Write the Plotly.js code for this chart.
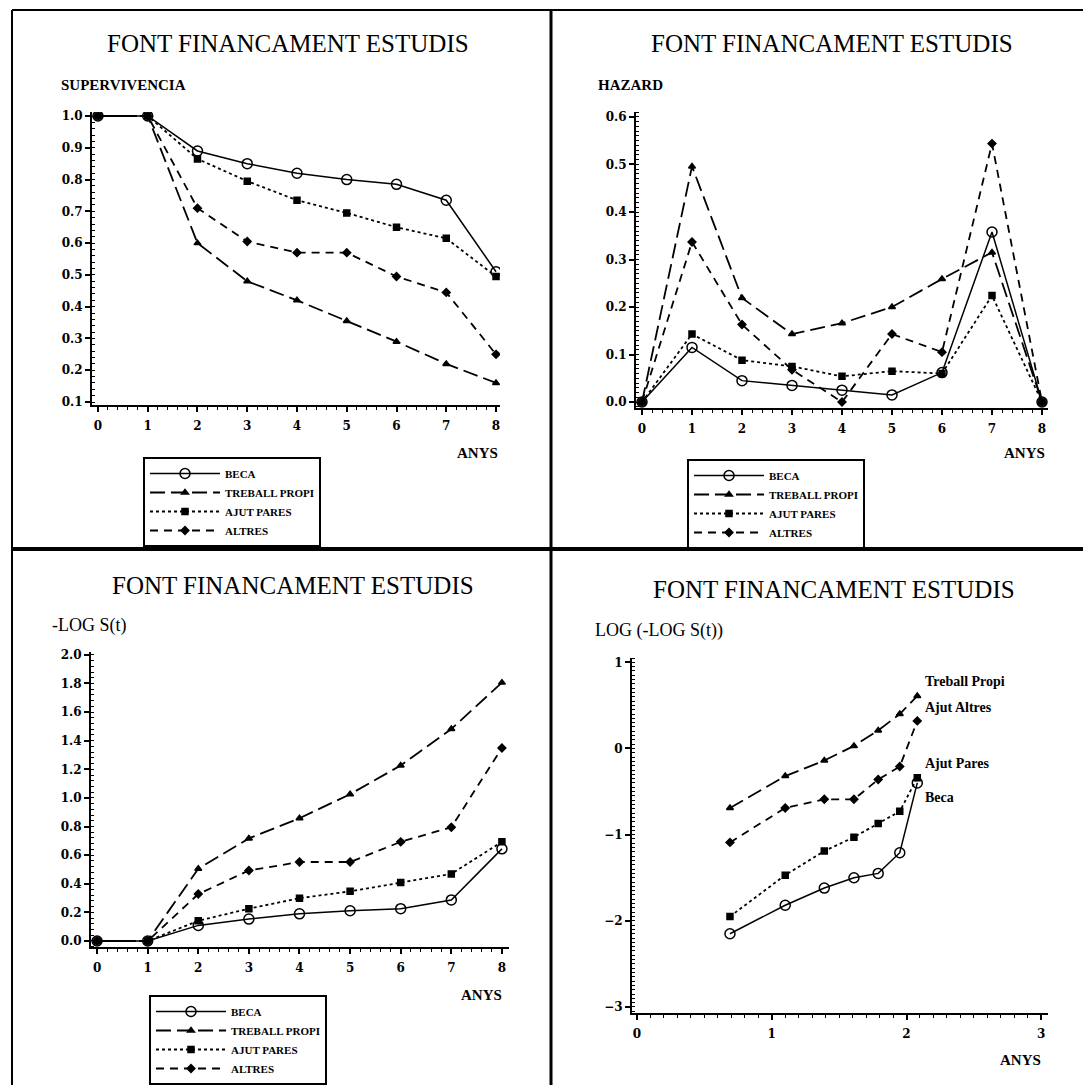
<!DOCTYPE html>
<html><head><meta charset="utf-8">
<script src="https://cdn.plot.ly/plotly-3.0.1.min.js"></script>
<style>html,body{margin:0;padding:0;background:#fff;} #chart{width:1083px;height:1085px;}</style>
</head><body><div id="chart"></div>
<script>
// ---------- DATA ----------
const years = [0, 1, 2, 3, 4, 5, 6, 7, 8];
const seriesNames = ['BECA', 'TREBALL PROPI', 'AJUT PARES', 'ALTRES'];
const endLabels = ['Beca', 'Treball Propi', 'Ajut Pares', 'Ajut Altres'];
const panelTitle = 'FONT FINANCAMENT ESTUDIS';
const yLabels = ['SUPERVIVENCIA', 'HAZARD', '-LOG S(t)', 'LOG (-LOG S(t))'];
const xLabel = 'ANYS';

const survBeca    = [1.0, 1.0, 0.89, 0.85, 0.82, 0.80, 0.785, 0.735, 0.51];
const survTreball = [1.0, 1.0, 0.60, 0.48, 0.42, 0.355, 0.29, 0.22, 0.16];
const survPares   = [1.0, 1.0, 0.865, 0.795, 0.735, 0.695, 0.65, 0.615, 0.495];
const survAltres  = [1.0, 1.0, 0.71, 0.605, 0.57, 0.57, 0.495, 0.445, 0.25];

const hazBeca    = [0, 0.115, 0.045, 0.035, 0.025, 0.015, 0.062, 0.358, 0];
const hazTreball = [0, 0.496, 0.219, 0.143, 0.166, 0.200, 0.259, 0.315, 0];
const hazPares   = [0, 0.143, 0.088, 0.075, 0.054, 0.065, 0.060, 0.224, 0];
const hazAltres  = [0, 0.337, 0.163, 0.068, 0.000, 0.143, 0.105, 0.544, 0];

const mlsBeca    = [0, 0, 0.109, 0.153, 0.190, 0.211, 0.226, 0.287, 0.644];
const mlsTreball = [0, 0, 0.505, 0.717, 0.858, 1.026, 1.227, 1.482, 1.806];
const mlsPares   = [0, 0, 0.141, 0.226, 0.299, 0.347, 0.408, 0.469, 0.693];
const mlsAltres  = [0, 0, 0.328, 0.493, 0.552, 0.552, 0.693, 0.795, 1.349];

const logYears   = [0.69, 1.10, 1.39, 1.61, 1.79, 1.95, 2.08];
const llsBeca    = [-2.15, -1.82, -1.62, -1.50, -1.45, -1.21, -0.40];
const llsTreball = [-0.69, -0.32, -0.14, 0.03, 0.21, 0.40, 0.61];
const llsPares   = [-1.95, -1.47, -1.19, -1.03, -0.87, -0.73, -0.34];
const llsAltres  = [-1.09, -0.69, -0.59, -0.59, -0.36, -0.21, 0.32];

// ---------- STYLE ----------
const W = 1083, H = 1085;
const px = v => v / W;
const py = v => 1 - v / H;
const SERIF = 'Liberation Serif, Times New Roman, serif';
const TICKSERIF = 'DejaVu Serif, Liberation Serif, serif';
const tickFont = {family: TICKSERIF, size: 12, color: '#000', weight: 'bold'};

const styles = [
  {dash: 'solid',    width: 1.5, symbol: 'circle-open', size: 10},
  {dash: '15px,6px', width: 1.8, symbol: 'triangle-up', size: 6},
  {dash: 'dot',      width: 1.8, symbol: 'square',      size: 6},
  {dash: '8px,6px',  width: 1.8, symbol: 'diamond',     size: 6}
];

function makeTraces(x, ysList, xa, ya, legendId, names) {
  return ysList.map((ys, i) => {
    const t = {
      type: 'scatter', mode: 'lines+markers', x: x, y: ys,
      xaxis: xa, yaxis: ya, name: names[i],
      showlegend: legendId !== null,
      line: {color: '#000', width: styles[i].width, dash: styles[i].dash},
      marker: {color: '#000', symbol: styles[i].symbol, size: styles[i].size,
               line: {color: '#000', width: 1.5}},
      hoverinfo: 'skip'
    };
    if (legendId) t.legend = legendId;
    return t;
  });
}

let data = [];
data = data.concat(makeTraces(years, [survBeca, survTreball, survPares, survAltres], 'x', 'y', 'legend', seriesNames));
data = data.concat(makeTraces(years, [hazBeca, hazTreball, hazPares, hazAltres], 'x2', 'y2', 'legend2', seriesNames));
data = data.concat(makeTraces(years, [mlsBeca, mlsTreball, mlsPares, mlsAltres], 'x3', 'y3', 'legend3', seriesNames));
data = data.concat(makeTraces(logYears, [llsBeca, llsTreball, llsPares, llsAltres], 'x4', 'y4', null, endLabels));

function axis(extra, minorDtick, minorSide) {
  return Object.assign({
    showline: true, linewidth: 2, linecolor: '#000', mirror: false,
    ticks: 'outside', ticklen: 5, tickwidth: 2, tickcolor: '#000',
    showgrid: false, zeroline: false, tickfont: tickFont, fixedrange: true,
    minor: {ticks: minorSide, ticklen: 3, tickwidth: 1, tickcolor: '#000', dtick: minorDtick, showgrid: false}
  }, extra);
}

function legendCfg(leftPx, centerPx) {
  return {
    x: px(leftPx), xanchor: 'left', y: py(centerPx), yanchor: 'middle',
    bgcolor: '#fff', bordercolor: '#000', borderwidth: 2,
    font: {family: SERIF, size: 11, color: '#000', weight: 'bold'},
    itemwidth: 70, tracegroupgap: 0, orientation: 'v',
    itemclick: false, itemdoubleclick: false
  };
}

const ann = [];
function txt(text, x, y, size, weight, xanchor) {
  ann.push({text: text, x: x, y: y, xref: 'paper', yref: 'paper',
    xanchor: xanchor || 'center', yanchor: 'middle', showarrow: false,
    font: {family: SERIF, size: size, color: '#000', weight: weight || 'normal'}});
}
// Panel titles
txt(panelTitle, px(288), py(43), 25);
txt(panelTitle, px(832), py(43), 25);
txt(panelTitle, px(293), py(585), 25);
txt(panelTitle, px(834), py(589), 25);
// Y labels
txt(yLabels[0], px(59), py(85), 15, 'bold', 'left');
txt(yLabels[1], px(596), py(85), 15, 'bold', 'left');
txt(yLabels[2], px(50), py(625), 18, 'normal', 'left');
txt(yLabels[3], px(593), py(631), 18, 'normal', 'left');
// ANYS (right-aligned with the last major tick)
const anysFont = {family: SERIF, size: 15, color: '#000', weight: 'bold'};
ann.push({text: xLabel, xref: 'x', x: 8, xshift: 4, yref: 'paper', y: py(453), xanchor: 'right', yanchor: 'middle', showarrow: false, font: anysFont});
ann.push({text: xLabel, xref: 'x2', x: 8, xshift: 5, yref: 'paper', y: py(453), xanchor: 'right', yanchor: 'middle', showarrow: false, font: anysFont});
ann.push({text: xLabel, xref: 'x3', x: 8, xshift: 2, yref: 'paper', y: py(995), xanchor: 'right', yanchor: 'middle', showarrow: false, font: anysFont});
ann.push({text: xLabel, xref: 'x4', x: 3, xshift: 2, yref: 'paper', y: py(1060), xanchor: 'right', yanchor: 'middle', showarrow: false, font: anysFont});
// End labels on bottom-right
const lastIdx = logYears.length - 1;
const endSeries = [llsBeca, llsTreball, llsPares, llsAltres];
const endShift = [-15, 14, 14, 13];
endSeries.forEach((s, i) => {
  ann.push({text: endLabels[i], xref: 'x4', yref: 'y4', x: logYears[lastIdx], y: s[lastIdx],
    xanchor: 'left', yanchor: 'middle', xshift: 6, yshift: endShift[i], showarrow: false,
    font: {family: SERIF, size: 14, color: '#000', weight: 'bold'}});
});

// Panel borders
const shapes = [
  {type: 'line', xref: 'paper', yref: 'paper', x0: px(12), x1: 1, y0: py(10), y1: py(10), line: {color: '#000', width: 2}},
  {type: 'line', xref: 'paper', yref: 'paper', x0: px(12), x1: px(12), y0: py(10), y1: 0, line: {color: '#000', width: 2}},
  {type: 'line', xref: 'paper', yref: 'paper', x0: px(551), x1: px(551), y0: py(10), y1: 0, line: {color: '#000', width: 3}},
  {type: 'line', xref: 'paper', yref: 'paper', x0: px(12), x1: 1, y0: py(549), y1: py(549), line: {color: '#000', width: 4}}
];

const layout = {
  width: W, height: H, autosize: false,
  margin: {l: 0, r: 0, t: 0, b: 0},
  paper_bgcolor: '#fff', plot_bgcolor: 'rgba(0,0,0,0)',
  font: {family: SERIF, color: '#000'},
  xaxis: axis({domain: [px(92), px(500)], range: [-0.12, 8.08], dtick: 1, tick0: 0, anchor: 'y', ticklabelstandoff: 4}, 0.2, 'outside'),
  yaxis: axis({domain: [py(405), py(112)], range: [0.0906, 1.0126], dtick: 0.1, tick0: 0, tickformat: '.1f', anchor: 'x'}, 0.02, 'inside'),
  xaxis2: axis({domain: [px(636), px(1048)], range: [-0.12, 8.12], dtick: 1, tick0: 0, anchor: 'y2', ticklabelstandoff: 4}, 0.2, 'outside'),
  yaxis2: axis({domain: [py(408), py(112)], range: [-0.0126, 0.6105], dtick: 0.1, tick0: 0, tickformat: '.1f', anchor: 'x2'}, 0.01, 'inside'),
  xaxis3: axis({domain: [px(91), px(509)], range: [-0.12, 8.14], dtick: 1, tick0: 0, anchor: 'y3', ticklabelstandoff: 4}, 0.2, 'outside'),
  yaxis3: axis({domain: [py(947), py(652)], range: [-0.042, 2.02], dtick: 0.2, tick0: 0, tickformat: '.1f', anchor: 'x3'}, 0.04, 'inside'),
  xaxis4: axis({domain: [px(632), px(1048)], range: [-0.037, 3.05], dtick: 1, tick0: 0, anchor: 'y4', ticklabelstandoff: 4}, 0.1, 'outside'),
  yaxis4: axis({domain: [py(1013), py(658)], range: [-3.07, 1.05], dtick: 1, tick0: 0, anchor: 'x4'}, 0.05, 'inside'),
  legend: legendCfg(143, 502),
  legend2: legendCfg(687, 504),
  legend3: legendCfg(149, 1040),
  annotations: ann,
  shapes: shapes
};

Plotly.newPlot('chart', data, layout, {displayModeBar: false, staticPlot: true});
</script>
</body></html>
